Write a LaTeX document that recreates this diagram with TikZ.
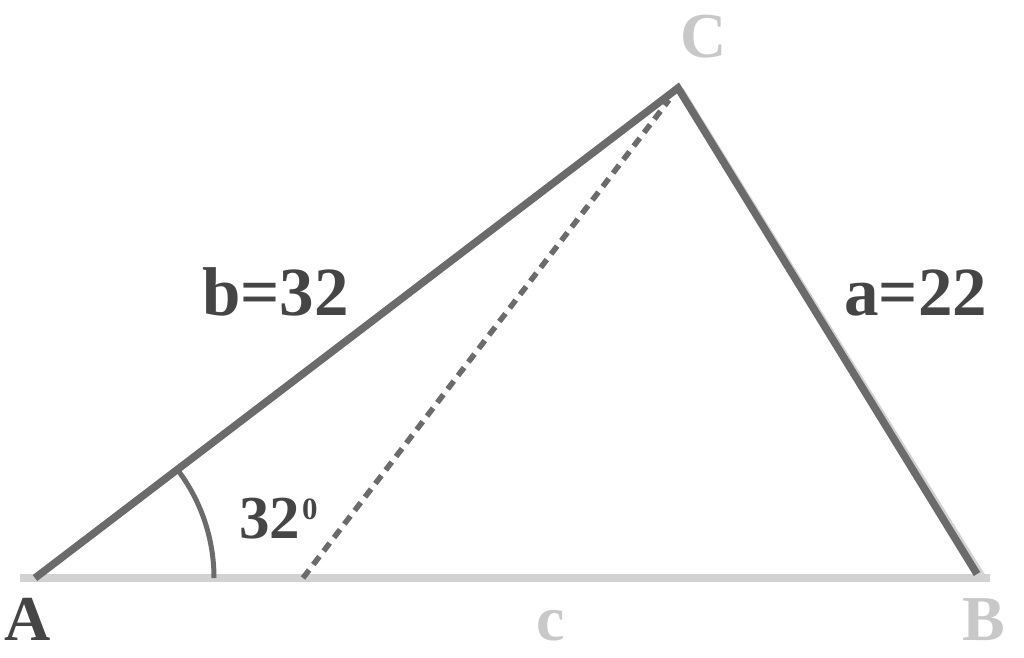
\documentclass[tikz,border=0pt]{standalone}
\usepackage{fontspec}
\setmainfont{Liberation Serif}
\definecolor{lineg}{HTML}{6B6B6B}
\definecolor{lightg}{HTML}{D2D2D2}
\definecolor{textd}{HTML}{454545}
\definecolor{textl}{HTML}{C8C8C8}
\tikzset{
  side/.style={draw=lineg, line width=7.5pt},
  baseside/.style={draw=lightg, line width=8pt},
  lbl/.style={font=\bfseries\fontsize{69}{69}\selectfont, inner sep=0pt, anchor=base west},
}
\begin{document}
\begin{tikzpicture}[x=1pt,y=-1pt]
\useasboundingbox (0,0) rectangle (1024,657);
\coordinate (A0) at (20,578);
\coordinate (A) at (35,578);
\coordinate (B0) at (990,578);
\coordinate (B) at (977,574);
\coordinate (C) at (678,88);
\coordinate (Cs) at (681,90);
\coordinate (Bs) at (983,577);
\coordinate (D) at (303,578);
\coordinate (E) at (669,100);
% light underlay
\draw[baseside] (A0) -- (B0);
\draw[draw=lightg, line width=6pt] (Cs) -- (Bs);
% dark sides
\draw[side, line join=miter] (A) -- (C) -- (B);
% dotted line
\draw[draw=lineg, line width=5.5pt, dash pattern=on 10pt off 7pt] (D) -- (E);
% angle arc
\draw[draw=lineg, line width=5pt] ([shift={(0:179)}]A) arc[start angle=0, end angle=-37.3, radius=179];
% labels
\node[lbl, text=textd] (lb) at (202,315) {b=32};
\node[lbl, text=textd] (la) at (844,315) {a=22};
\node[lbl, text=textd, font=\bfseries\fontsize{61}{61}\selectfont] (lang) at (239,538) {32\kern2pt\raisebox{19pt}{\fontsize{31}{31}\selectfont 0}};
\node[lbl, text=textd, font=\bfseries\fontsize{64}{64}\selectfont] (lA) at (4,640) {A};
\node[lbl, text=textl, font=\bfseries\fontsize{64}{64}\selectfont] (lB) at (962,640) {B};
\node[lbl, text=textl, font=\bfseries\fontsize{64}{64}\selectfont] (lC) at (680,57) {C};
\node[lbl, text=textl, font=\bfseries\fontsize{64}{64}\selectfont] (lc) at (536,640) {c};
\end{tikzpicture}
\end{document}
